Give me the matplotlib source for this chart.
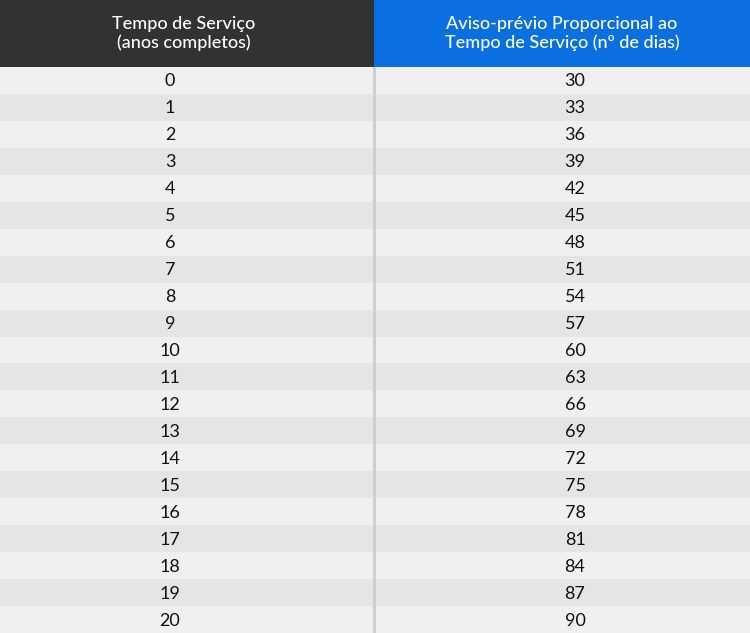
import matplotlib.pyplot as plt
from matplotlib.patches import Rectangle

years = list(range(0, 21))
days = [30, 33, 36, 39, 42, 45, 48, 51, 54, 57, 60, 63, 66, 69, 72, 75, 78, 81, 84, 87, 90]
headers = ["Tempo de Serviço\n(anos completos)",
           "Aviso-prévio Proporcional ao\nTempo de Serviço (nº de dias)"]

W, H = 750, 633
head_h = 67
split = 374
row_h = (H - head_h) / len(years)

fig = plt.figure(figsize=(7.5, 6.33), dpi=100)
ax = fig.add_axes([0, 0, 1, 1])
ax.set_xlim(0, W)
ax.set_ylim(H, 0)
ax.axis("off")

ax.add_patch(Rectangle((0, 0), split, head_h, color="#323232", lw=0))
ax.add_patch(Rectangle((split, 0), W - split, head_h, color="#0a6fe0", lw=0))
for txt, cx in zip(headers, [split / 2 - 3, (split + W) / 2]):
    ax.text(cx, head_h / 2, txt, ha="center", va="center", color="white",
            fontsize=13, fontweight="medium", family="Lato", linespacing=1.15)

for i, (y, d) in enumerate(zip(years, days)):
    top = head_h + i * row_h
    ax.add_patch(Rectangle((0, top), W, row_h,
                           color="#f0f0f0" if i % 2 == 0 else "#e5e5e5", lw=0))
    cy = top + row_h / 2 + 1
    ax.text(170, cy, str(y), ha="center", va="center", fontsize=13,
            color="#111111", family="Lato")
    ax.text(575, cy, str(d), ha="center", va="center", fontsize=13,
            color="#111111", family="Lato")

ax.add_patch(Rectangle((split - 1, head_h), 3, H - head_h, color="#cfcfcf", lw=0))

fig.savefig("out.png", dpi=100)
